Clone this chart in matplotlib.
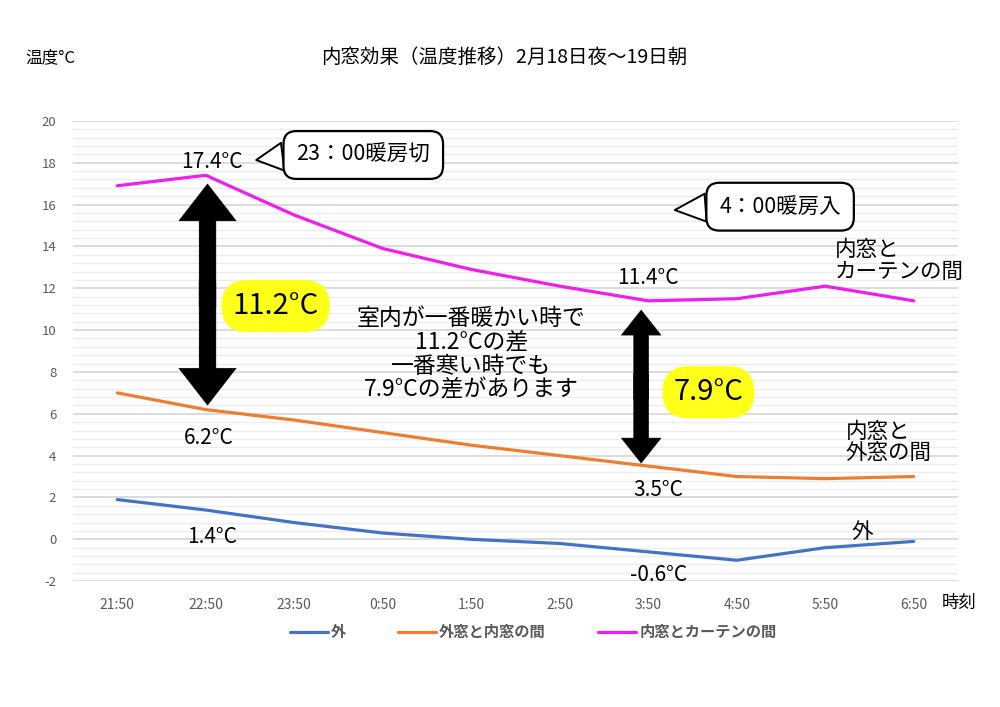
import numpy as np
import matplotlib
matplotlib.use("Agg")
import matplotlib.pyplot as plt
from matplotlib.ticker import MultipleLocator

plt.rcParams['font.family'] = ['Noto Sans CJK JP', 'DejaVu Sans']
plt.rcParams['axes.unicode_minus'] = False

times = ['21:50', '22:50', '23:50', '0:50', '1:50', '2:50', '3:50', '4:50', '5:50', '6:50']
outside = [1.9, 1.4, 0.8, 0.3, 0.0, -0.2, -0.6, -1.0, -0.4, -0.1]
between_windows = [7.0, 6.2, 5.7, 5.1, 4.5, 4.0, 3.5, 3.0, 2.9, 3.0]
inner_curtain = [16.9, 17.4, 15.5, 13.9, 12.9, 12.1, 11.4, 11.5, 12.1, 11.4]
series_names = ['外', '外窓と内窓の間', '内窓とカーテンの間']
colors = ['#4472C4', '#ED7D31', '#EE1EEE']

fig = plt.figure(figsize=(10, 7.07), dpi=100)
ax = fig.add_axes([0.073, 0.178, 0.885, 0.651])

x = np.arange(len(times))
for vals, name, c in zip([outside, between_windows, inner_curtain], series_names, colors):
    ax.plot(x, vals, color=c, lw=2.3, label=name, solid_capstyle='round')

ax.set_xlim(-0.5, len(times) - 0.5)
ax.set_ylim(-2, 20)
ax.yaxis.set_major_locator(MultipleLocator(2))
ax.yaxis.set_minor_locator(MultipleLocator(0.4))
ax.set_xticks(x)
ax.set_xticklabels(times)
ax.grid(axis='y', which='major', color='#d9d9d9', lw=1.3)
ax.grid(axis='y', which='minor', color='#ececec', lw=1.0)
ax.set_axisbelow(True)
for s in ax.spines.values():
    s.set_visible(False)
ax.tick_params(which='both', length=0)
ax.tick_params(axis='y', labelsize=9.5, labelcolor='#595959', pad=12)
ax.tick_params(axis='x', labelsize=10, labelcolor='#595959', pad=12)

fig.text(0.025, 0.919, '温度°C', fontsize=12, va='center', ha='left')
fig.text(0.504, 0.919, '内窓効果（温度推移）2月18日夜〜19日朝', fontsize=14, va='center', ha='center')
fig.text(0.942, 0.147, '時刻', fontsize=12.5, va='center', ha='left')

leg = fig.legend(loc='center', bbox_to_anchor=(0.533, 0.106), ncol=3, frameon=False,
                 fontsize=11, handlelength=2.5, handletextpad=0.2, columnspacing=3.4)
for t in leg.get_texts():
    t.set_color('#595959')
    t.set_fontweight('bold')

# value labels
lab = dict(fontsize=15, ha='center', va='center')
ax.text(1.07, 18.04, '17.4°C', **lab)
ax.text(1.03, 4.83, '6.2°C', **lab)
ax.text(1.07, 0.1, '1.4°C', **lab)
ax.text(6.0, 12.49, '11.4°C', **lab)
ax.text(6.11, 2.34, '3.5°C', **lab)
ax.text(6.12, -1.72, '-0.6°C', **lab)

# series labels on the right
ax.text(8.11, 13.3, '内窓と\nカーテンの間', fontsize=15.5, ha='left', va='center', linespacing=0.95)
ax.text(8.23, 4.64, '内窓と\n外窓の間', fontsize=15.5, ha='left', va='center', linespacing=0.95)
ax.text(8.42, 0.33, '外', fontsize=15.5, ha='center', va='center')

# center message
ax.text(4.0, 8.85, '室内が一番暖かい時で\n11.2°Cの差\n一番寒い時でも\n7.9°Cの差があります',
        fontsize=16.5, ha='center', va='center', linespacing=1.05)


def double_arrow(xc, y0, y1, w, hw, hl):
    mid = (y0 + y1) / 2
    ov = 0.6
    ax.arrow(xc, mid - ov, 0, y1 - mid + ov, width=w, head_width=hw, head_length=hl,
             length_includes_head=True, fc='black', ec='black', lw=0.3, zorder=4)
    ax.arrow(xc, mid + ov, 0, y0 - mid - ov, width=w, head_width=hw, head_length=hl,
             length_includes_head=True, fc='black', ec='black', lw=0.3, zorder=4)


double_arrow(1.02, 6.41, 16.99, 0.19, 0.65, 1.77)
double_arrow(5.92, 3.64, 10.96, 0.17, 0.45, 1.2)

yb = dict(boxstyle='round,pad=0.38,rounding_size=0.9', fc='#FFFF1A', ec='none')
ax.text(1.79, 11.15, '11.2°C', fontsize=21, ha='center', va='center', bbox=yb, zorder=5)
ax.text(6.68, 7.03, '7.9°C', fontsize=21, ha='center', va='center', bbox=yb, zorder=5)

# speech bubbles
bub = dict(boxstyle='round,pad=0.6,rounding_size=0.6', fc='white', ec='black', lw=1.6)
arr = dict(arrowstyle='wedge,tail_width=1.3,shrink_factor=0.5', fc='white', ec='black', lw=1.4,
           relpos=(0, 0.5), shrinkA=0, shrinkB=0)
ax.annotate('23：00暖房切', xy=(1.57, 18.13), xytext=(2.78, 18.37), fontsize=15.5,
            ha='center', va='center', bbox=bub, arrowprops=arr, zorder=6)
ax.annotate('4：00暖房入', xy=(6.3, 15.74), xytext=(7.49, 15.9), fontsize=15.5,
            ha='center', va='center', bbox=bub, arrowprops=arr, zorder=6)

fig.savefig('out.png', dpi=100)
